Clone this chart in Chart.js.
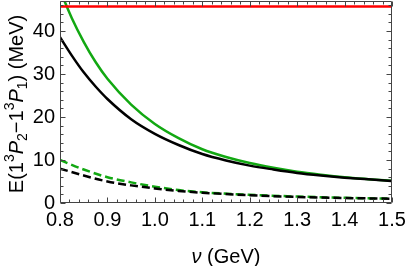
<!DOCTYPE html>
<html>
<head>
<meta charset="utf-8">
<script src="https://cdn.jsdelivr.net/npm/chart.js@4/dist/chart.umd.min.js"></script>
<style>
  html, body { margin: 0; padding: 0; background: #fff; }
  #wrap { width: 407px; height: 266px; position: relative; }
</style>
</head>
<body>
<div id="wrap"><canvas id="c" width="407" height="266"></canvas></div>
<script>
// ---- data ----
const nuSolid = [0.8, 0.825, 0.85, 0.875, 0.9, 0.95, 1.0, 1.05, 1.1, 1.15, 1.2, 1.25, 1.3, 1.35, 1.4, 1.45, 1.5];
const blackSolid = [38.6, 34.3, 30.4, 27.1, 24.2, 19.5, 16.1, 13.5, 11.4, 9.9, 8.7, 7.8, 7.0, 6.4, 5.9, 5.5, 5.1];
const greenSolid = [49.5, 43.0, 37.5, 32.8, 28.9, 22.9, 18.4, 15.1, 12.5, 10.7, 9.3, 8.2, 7.3, 6.6, 6.0, 5.55, 5.15];

const nuDashed = [0.8, 0.85, 0.9, 0.95, 1.0, 1.05, 1.1, 1.2, 1.3, 1.4, 1.5];
const greenDashed = [10.0, 7.8, 6.0, 4.8, 3.8, 3.0, 2.5, 1.9, 1.5, 1.2, 1.0];
const blackDashed = [8.0, 6.4, 5.0, 4.1, 3.4, 2.8, 2.4, 1.8, 1.4, 1.15, 1.0];

const nuRed = [0.8, 1.5];
const redLine = [45.7, 45.7];

const xMajorTicks = [0.8, 0.9, 1.0, 1.1, 1.2, 1.3, 1.4, 1.5];
const xTickLabels = ['0.8', '0.9', '1.0', '1.1', '1.2', '1.3', '1.4', '1.5'];
const xMinorTicks = [0.82,0.84,0.86,0.88,0.92,0.94,0.96,0.98,1.02,1.04,1.06,1.08,1.12,1.14,1.16,1.18,1.22,1.24,1.26,1.28,1.32,1.34,1.36,1.38,1.42,1.44,1.46,1.48];
const yMajorTicks = [0, 10, 20, 30, 40];
const yTickLabels = ['0', '10', '20', '30', '40'];
const yMinorTicks = [2,4,6,8,12,14,16,18,22,24,26,28,32,34,36,38,42,44,46];

// axis titles as rich-text pieces: [text, style] (n = normal, i = italic, sup, sub)
const yTitle = [['E(1', 'n'], ['3', 'sup'], ['P', 'i'], ['2', 'sub'], ['−1', 'n'], ['3', 'sup'], ['P', 'i'], ['1', 'sub'], [') (MeV)', 'n']];
const xTitle = [['ν', 'i'], [' (GeV)', 'n']];

const pts = (xs, ys) => xs.map((x, i) => ({x: x, y: ys[i]}));

const FONT = "'Liberation Sans', Arial, sans-serif";
const GREEN = '#12a812';

function richText(ctx, pieces, size) {
  const small = Math.round(size * 0.7);
  const fontOf = st => (st === 'i' ? 'italic ' : '') + ((st === 'sup' || st === 'sub') ? small : size) + 'px ' + FONT;
  let w = 0;
  pieces.forEach(([t, st]) => { ctx.font = fontOf(st); w += ctx.measureText(t).width; });
  let x = -w / 2;
  const base = size * 0.36;
  pieces.forEach(([t, st]) => {
    ctx.font = fontOf(st);
    const dy = st === 'sup' ? -size * 0.42 : (st === 'sub' ? size * 0.22 : 0);
    ctx.fillText(t, x, base + dy);
    x += ctx.measureText(t).width;
  });
}

const frameTicks = {
  id: 'frameTicks',
  afterDatasetsDraw(chart) {
    const {ctx, chartArea: a, scales: {x, y}} = chart;
    ctx.save();
    ctx.strokeStyle = '#444';
    ctx.lineWidth = 1;
    ctx.beginPath();
    const L = Math.round(a.left) + 0.5, R = Math.round(a.right) - 0.5;
    const T = Math.round(a.top) + 0.5, B = Math.round(a.bottom) - 0.5;
    ctx.rect(L, T, R - L, B - T);
    const tx = (v, len) => {
      const p = Math.round(x.getPixelForValue(v)) + 0.5;
      ctx.moveTo(p, B); ctx.lineTo(p, B - len);
      ctx.moveTo(p, T); ctx.lineTo(p, T + len);
    };
    const ty = (v, len) => {
      const p = Math.round(y.getPixelForValue(v)) + 0.5;
      ctx.moveTo(L, p); ctx.lineTo(L + len, p);
      ctx.moveTo(R, p); ctx.lineTo(R - len, p);
    };
    xMajorTicks.forEach(v => tx(v, 5));
    xMinorTicks.forEach(v => tx(v, 3));
    yMajorTicks.forEach(v => ty(v, 5));
    yMinorTicks.forEach(v => ty(v, 3));
    ctx.stroke();
    ctx.restore();

    // axis titles
    ctx.save();
    ctx.fillStyle = '#000';
    ctx.textBaseline = 'alphabetic';
    ctx.textAlign = 'left';
    ctx.translate(15.5, 104);
    ctx.rotate(-Math.PI / 2);
    richText(ctx, yTitle, 20);
    ctx.restore();
    ctx.save();
    ctx.fillStyle = '#000';
    ctx.textBaseline = 'alphabetic';
    ctx.textAlign = 'left';
    ctx.translate((a.left + a.right) / 2, 256);
    richText(ctx, xTitle, 20);
    ctx.restore();
  }
};

new Chart(document.getElementById('c'), {
  type: 'line',
  data: {
    datasets: [
      { data: pts(nuRed, redLine), borderColor: '#ff0000', borderWidth: 2.5, order: 1 },
      { data: pts(nuSolid, blackSolid), borderColor: '#000', borderWidth: 2.5, order: 2 },
      { data: pts(nuSolid, greenSolid), borderColor: GREEN, borderWidth: 2.5, order: 3 },
      { data: pts(nuDashed, blackDashed), borderColor: '#000', borderWidth: 2.5, borderDash: [8, 4], order: 4 },
      { data: pts(nuDashed, greenDashed), borderColor: GREEN, borderWidth: 2.5, borderDash: [8, 4], order: 5 }
    ]
  },
  options: {
    responsive: false,
    animation: false,
    events: [],
    layout: { padding: { top: 1, right: 15, left: 0, bottom: 0 } },
    elements: {
      point: { radius: 0 },
      line: { cubicInterpolationMode: 'monotone', fill: false }
    },
    plugins: { legend: { display: false }, tooltip: { enabled: false } },
    scales: {
      x: {
        type: 'linear',
        min: 0.8, max: 1.5,
        grid: { display: false, drawTicks: false },
        border: { display: false },
        afterBuildTicks: s => { s.ticks = xMajorTicks.map(v => ({value: v})); },
        afterFit: s => { s.height = 63; s.paddingLeft = 0; s.paddingRight = 0; },
        ticks: {
          padding: 5,
          maxRotation: 0,
          autoSkip: false,
          color: '#000',
          font: { family: FONT, size: 20 },
          callback: (v, i) => xTickLabels[i]
        },
        title: { display: false }
      },
      y: {
        type: 'linear',
        min: 0, max: 47,
        grid: { display: false, drawTicks: false },
        border: { display: false },
        afterBuildTicks: s => { s.ticks = yMajorTicks.map(v => ({value: v})); },
        afterFit: s => { s.width = 60; s.paddingTop = 0; s.paddingBottom = 0; },
        ticks: {
          padding: 5,
          autoSkip: false,
          color: '#000',
          font: { family: FONT, size: 20 },
          callback: (v, i) => yTickLabels[i]
        },
        title: { display: false }
      }
    }
  },
  plugins: [frameTicks]
});
</script>
</body>
</html>
